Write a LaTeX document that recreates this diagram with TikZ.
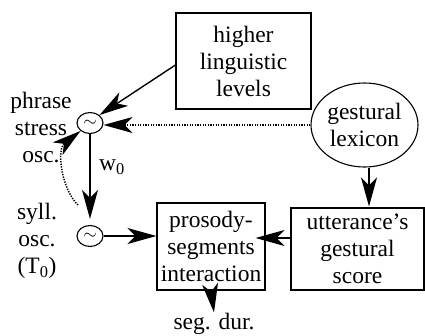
\documentclass[tikz,border=0pt]{standalone}
\usepackage{fontspec}
\setmainfont{Liberation Serif}
\usetikzlibrary{shapes.geometric,arrows.meta}
\begin{document}
\begin{tikzpicture}[x=1pt,y=-1pt,
  txt/.style={font=\fontsize{23.5}{27}\selectfont, align=center, inner sep=0pt},
  box/.style={txt, draw, line width=1.1pt, rectangle},
  ell/.style={txt, draw, line width=1.1pt, ellipse},
  osc/.style={draw, ellipse, line width=1.1pt, inner sep=0pt, minimum width=26pt, minimum height=21pt, font=\fontsize{18}{18}\selectfont},
  arr/.style={-{Stealth[length=29pt,width=16pt,inset=8pt]}, line width=1.4pt},
  dots/.style={dash pattern=on 1.3pt off 1.3pt, line width=1.5pt}
]
\useasboundingbox (0,0) rectangle (425,335);

\node[box, minimum width=135pt, minimum height=96pt] (hll) at (243.5,61) {higher\\linguistic\\levels};
\node[ell, minimum width=107pt, minimum height=84pt] (lex) at (364.5,125) {gestural\\lexicon};
\node[box, minimum width=108pt, minimum height=87pt] (pro) at (211,246.5) {prosody-\\segments\\interaction};
\node[box, minimum width=133pt, minimum height=82pt] (ugs) at (357.5,249) {utterance’s\\gestural\\score};

\node[osc] (po) at (90,123) {\raisebox{-2pt}{$\sim$}};
\node[osc] (so) at (90,236) {\raisebox{-2pt}{$\sim$}};

\node[txt] (pl) at (41,128) {phrase\\stress\\osc.};
\node[txt] (sl) at (37,241) {syll.\\osc.\\(T\textsubscript{0})};
\node[txt, anchor=west] (w) at (99,167) {w\textsubscript{0}};
\node[txt, anchor=base] (sd) at (214,329) {seg. dur.};

\coordinate (dstart) at (78,205);

\draw[arr] ([yshift=-4pt]hll.west) -- (po.40);
\draw[arr, dots] (lex.west) -- (lex.west -| po.east);
\draw[arr, shorten >=6pt] (po.south) -- (so.north);
\draw[arr] (so.east) -- (so.east -| pro.west);
\draw[arr, shorten >=-10pt] ([yshift=11pt]ugs.west) -- ([yshift=11pt]ugs.west -| pro.east);
\draw[arr, shorten >=1pt] ([xshift=4.5pt]lex.south) -- ([xshift=4.5pt]lex.south |- ugs.north);
\draw[arr] (pro.south) -- (sd.north);
\draw[arr, dots] (dstart) .. controls (62,190) and (56,150) .. (po.220);
\end{tikzpicture}
\end{document}
